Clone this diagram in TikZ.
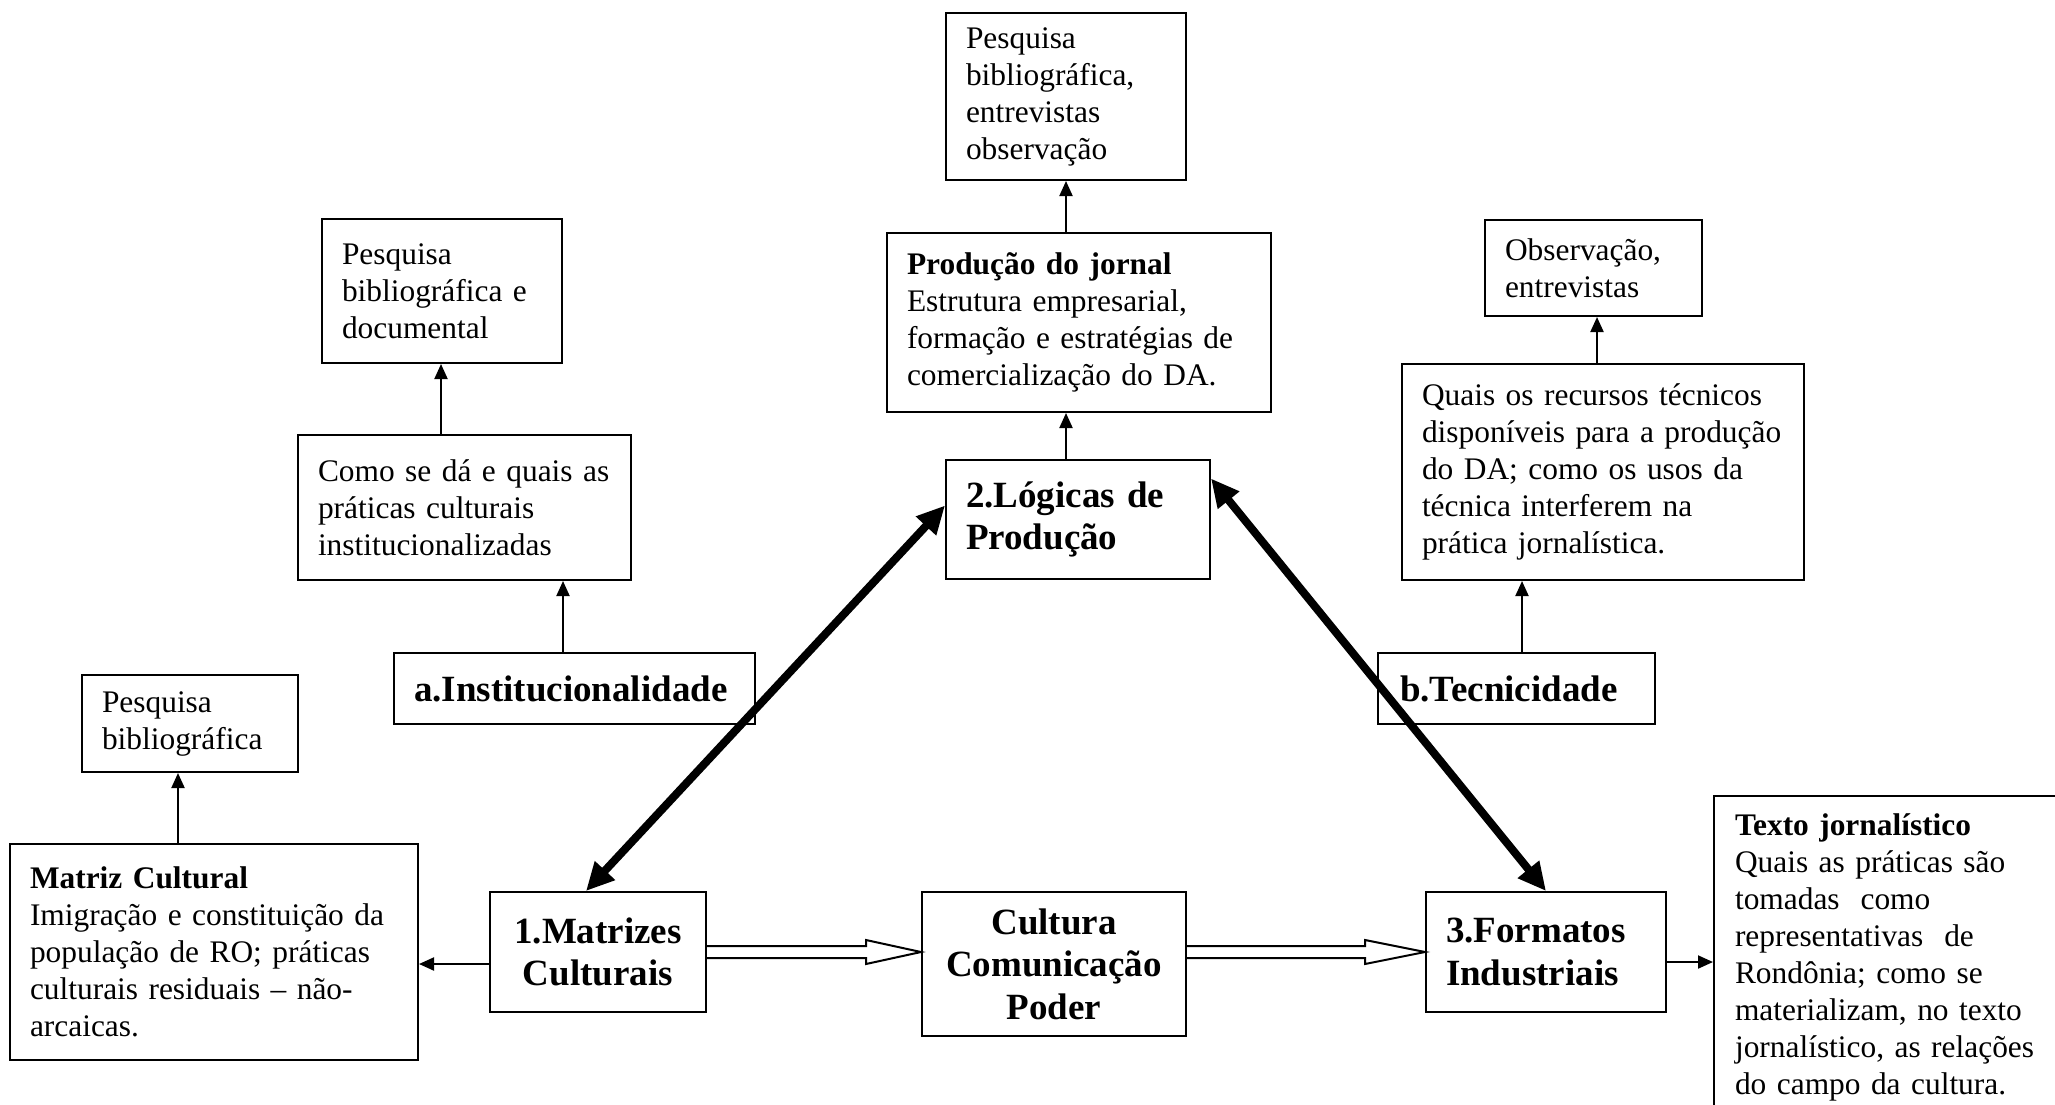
\documentclass[tikz,border=0pt]{standalone}
\usepackage{fontspec}
\setmainfont{Liberation Serif}
\usepackage{tikz}
\usetikzlibrary{arrows.meta,calc,positioning}

\newcommand{\plainsz}{\fontsize{31.4}{37}\selectfont\hyphenpenalty=10000}
\newcommand{\titlesz}{\fontsize{37}{42.5}\selectfont\bfseries\hyphenpenalty=10000}

\begin{document}
\begin{tikzpicture}[x=1pt,y=1pt,yscale=-1,
  box/.style={draw,line width=2pt,anchor=north west,inner xsep=20pt,inner ysep=0pt,align=left,font=\plainsz},
  bigbox/.style={box,font=\titlesz},
  thinarr/.style={line width=2pt,-{Triangle[length=15pt,width=13pt]}},
  thickarr/.style={line width=8pt,{Triangle[length=28pt,width=26pt]}-{Triangle[length=28pt,width=26pt]}},
  hollow/.style={line width=2pt,line join=miter}]
  \useasboundingbox (0,0) rectangle (2055,1104);

  % Text Node
  \node[box,text width=176pt,minimum height=97pt] (pbA) at (81,674) {Pesquisa\\bibliográfica};
  % Text Node
  \node[box,text width=368pt,minimum height=216pt] (matriz) at (9,843) {\textbf{Matriz Cultural}\\Imigração e constituição da\\população de RO; práticas\\culturais residuais – não-\\arcaicas.};
  % Text Node
  \node[bigbox,text width=176pt,minimum height=120pt,align=center] (mat) at (489,891) {1.Matrizes\\Culturais};
  % Text Node
  \node[bigbox,text width=224pt,minimum height=144pt,align=center] (cult) at (921,891) {Cultura\\Comunicação\\Poder};
  % Text Node
  \node[bigbox,text width=200pt,minimum height=120pt] (form) at (1425,891) {3.Formatos\\Industriais};
  % Text Node
  \node[box,inner xsep=21pt,text width=318pt,minimum height=322pt] (texto) at (1713,795) {\textbf{Texto jornalístico}\\Quais as práticas são\\tomadas\ \ como\\representativas\ \ de\\Rondônia; como se\\materializam, no texto\\jornalístico, as relações\\do campo da cultura.};

  % Text Node
  \node[bigbox,text width=321pt,minimum height=71pt] (aInst) at (393,652) {a.Institucionalidade};
  % Text Node
  \node[box,text width=293pt,minimum height=145pt] (como) at (297,434) {Como se dá e quais as\\práticas culturais\\institucionalizadas};
  % Text Node
  \node[box,text width=200pt,minimum height=144pt] (pbB) at (321,218) {Pesquisa\\bibliográfica e\\documental};

  % Text Node
  \node[bigbox,text width=224pt,minimum height=119pt] (logi) at (945,459) {2.Lógicas de\\Produção};
  % Text Node
  \node[box,text width=344pt,minimum height=179pt] (prod) at (886,232) {\textbf{Produção do jornal}\\Estrutura empresarial,\\formação e estratégias de\\comercialização do DA.};
  % Text Node
  \node[box,text width=200pt,minimum height=167pt] (pbC) at (945,12) {Pesquisa\\bibliográfica,\\entrevistas\\observação};

  % Text Node
  \node[bigbox,inner xsep=22pt,text width=233pt,minimum height=71pt] (bTec) at (1377,652) {b.Tecnicidade};
  % Text Node
  \node[box,text width=362pt,minimum height=216pt] (quais) at (1401,363) {Quais os recursos técnicos\\disponíveis para a produção\\do DA; como os usos da\\técnica interferem na\\prática jornalística.};
  % Text Node
  \node[box,text width=177pt,minimum height=96pt] (obs) at (1484,219) {Observação,\\entrevistas};

  %Straight Lines
  \coordinate (m1) at ([xshift=-36pt]matriz.north);
  \draw[thinarr] (m1) -- (m1 |- pbA.south);
  \coordinate (m2) at ([yshift=12pt]mat.west);
  \draw[thinarr] (m2) -- (m2 -| matriz.east);
  \coordinate (f1) at ([yshift=10pt]form.east);
  \draw[thinarr] (f1) -- (f1 -| texto.west);
  \coordinate (a1) at ([xshift=-11.5pt]aInst.north);
  \draw[thinarr] (a1) -- (a1 |- como.south);
  \coordinate (c1) at ([xshift=-23.5pt]como.north);
  \draw[thinarr] (c1) -- (c1 |- pbB.south);
  \coordinate (l1) at ([xshift=-12pt]logi.north);
  \draw[thinarr] (l1) -- (l1 |- prod.south);
  \coordinate (p1) at ([xshift=-13pt]prod.north);
  \draw[thinarr] (p1) -- (p1 |- pbC.south);
  \coordinate (b1) at ([xshift=5.5pt]bTec.north);
  \draw[thinarr] (b1) -- (b1 |- quais.south);
  \coordinate (q1) at ([xshift=-6pt]quais.north);
  \draw[thinarr] (q1) -- (q1 |- obs.south);

  %Thick double arrows
  \draw[thickarr] ([xshift=-12pt]mat.north) -- ([yshift=-14pt]logi.west);
  \draw[thickarr] ([yshift=-41pt]logi.east) -- (form.north);

  %Block arrows
  \coordinate (h1) at (mat.east);
  \coordinate (h2) at (cult.west |- mat.east);
  \draw[hollow] ($(h1)+(0,-6)$) -- ($(h2)+(-55,-6)$) -- ($(h2)+(-55,-12)$) -- (h2) -- ($(h2)+(-55,12)$) -- ($(h2)+(-55,6)$) -- ($(h1)+(0,6)$);
  \coordinate (h3) at (cult.east |- mat.east);
  \coordinate (h4) at (form.west |- mat.east);
  \draw[hollow] ($(h3)+(0,-6)$) -- ($(h4)+(-60,-6)$) -- ($(h4)+(-60,-12)$) -- (h4) -- ($(h4)+(-60,12)$) -- ($(h4)+(-60,6)$) -- ($(h3)+(0,6)$);
\end{tikzpicture}
\end{document}
